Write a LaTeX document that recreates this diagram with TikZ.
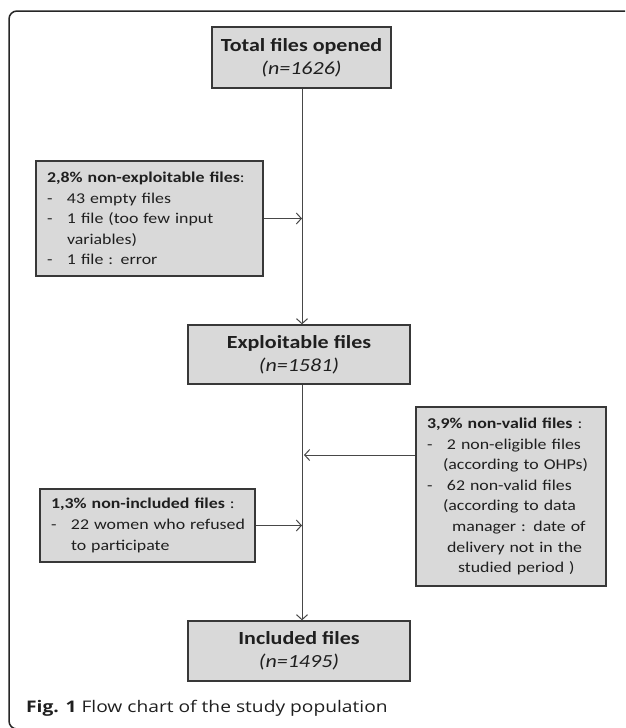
\documentclass[tikz,border=0pt]{standalone}
\usepackage{fontspec}
\setmainfont{Carlito}[FakeStretch=1.19]
\newfontfamily\capfont{Open Sans}[FakeStretch=1.2]
\usetikzlibrary{arrows.meta}
\newcommand{\itm}{\makebox[20pt][l]{-}}
\begin{document}
\begin{tikzpicture}[x=1pt,y=-1pt,
  box/.style={draw=black!78,line width=1.3pt,fill=black!15,inner sep=0pt,text=black!88},
  titlebox/.style={box,align=center,font=\fontsize{18.5}{23}\selectfont,minimum width=#1},
  sidebox/.style={box,align=left,font=\fontsize{15}{20.6}\selectfont,inner xsep=11pt},
  link/.style={draw=black!72,line width=1pt,-{Straight Barb[length=5pt,width=11pt]}},
]
\fill[white] (0,0) rectangle (625,728);
\useasboundingbox (0,0) rectangle (625,728);
\begin{scope}
\clip (0,0) rectangle (625,728);
\draw[line width=1.5pt,black!85,rounded corners=8pt] (630,11) -- (9,11) -- (9,729) -- (30,729);
\end{scope}

\node[titlebox=179pt,minimum height=61pt] (top) at (301.5,57.5)
  {\textbf{Total files opened}\\\textit{(n=1626)}};
\node[sidebox,text width=205pt,minimum width=227pt,minimum height=115pt] (nonexp) at (149.5,218.5)
  {\mbox{\textbf{2,8\% non-exploitable files}:}\\
   \itm\mbox{43 empty files}\\
   \itm\mbox{1 file (too few input}\\
   \hspace*{20pt}variables)\\
   \itm\mbox{1 file : error}};
\node[titlebox=222pt,minimum height=59pt] (exp) at (299,354.5)
  {\textbf{Exploitable files}\\\textit{(n=1581)}};
\node[sidebox,text width=168pt,minimum width=190pt,minimum height=179pt] (nonvalid) at (511,496.5)
  {\mbox{\textbf{3,9\% non-valid files} :}\\
   \itm\mbox{2 non-eligible files}\\
   \hspace*{16pt}\mbox{(according to OHPs)}\\
   \itm\mbox{62 non-valid files}\\
   \hspace*{16pt}\mbox{(according to data}\\
   \hspace*{25pt}\mbox{manager : date of}\\
   \hspace*{20pt}\mbox{delivery not in the}\\
   \hspace*{31pt}\mbox{studied period )}};
\node[sidebox,text width=193pt,minimum width=215pt,minimum height=73pt] (noninc) at (147.5,525.5)
  {\mbox{\textbf{1,3\% non-included files} :}\\
   \itm\mbox{22 women who refused}\\
   \hspace*{20pt}\mbox{to participate}};
\node[titlebox=222pt,minimum height=60pt] (inc) at (299,651)
  {\textbf{Included files}\\\textit{(n=1495)}};

\coordinate (sp) at (302,0);
\coordinate (j2) at (304,455);
\draw[link] (top.south -| sp) -- (exp.north -| sp);
\draw[link] (exp.south -| sp) -- (inc.north -| sp);
\draw[link] (nonexp.east) -- (nonexp.east -| sp);
\draw[link] (nonvalid.west |- j2) -- (j2);
\draw[link] (noninc.east) -- (noninc.east -| sp);

\node[anchor=base west,inner sep=0pt,font=\capfont\fontsize{16}{19}\selectfont,text=black!88] (cap) at (26,712)
  {\textbf{Fig. 1} Flow chart of the study population};
\end{tikzpicture}
\end{document}
